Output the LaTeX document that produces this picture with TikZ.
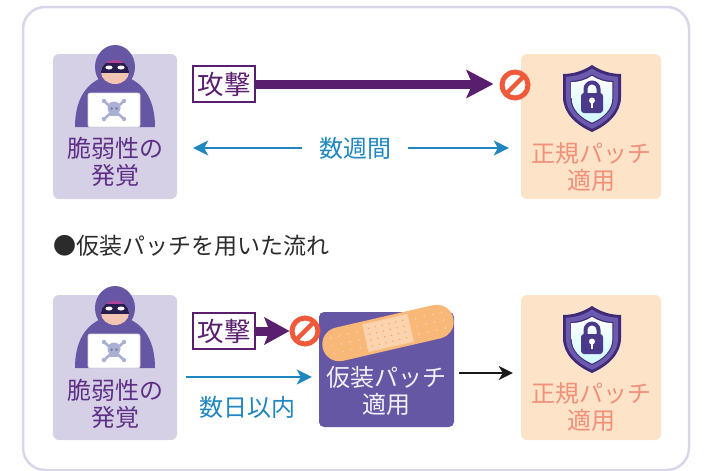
\documentclass[tikz,border=0pt]{standalone}
\usepackage{fontspec}
\setmainfont{Noto Sans CJK JP}
\usetikzlibrary{arrows.meta,calc}

\definecolor{frame}{HTML}{D9D5EA}
\definecolor{lav}{HTML}{D6D0E7}
\definecolor{lavtext}{HTML}{5E2F85}
\definecolor{peach}{HTML}{FDE3C7}
\definecolor{salmon}{HTML}{F2907A}
\definecolor{atk}{HTML}{5A1E6E}
\definecolor{blue}{HTML}{1F86C0}
\definecolor{stopred}{HTML}{EF5B3A}
\definecolor{tempbox}{HTML}{6657A4}
\definecolor{headc}{HTML}{2B2B2B}
\definecolor{hood}{HTML}{6656A3}
\definecolor{maskc}{HTML}{2A1C4E}
\definecolor{hair}{HTML}{B0449A}
\definecolor{skin}{HTML}{F2C4B2}
\definecolor{skull}{HTML}{AAB0D4}
\definecolor{skulleye}{HTML}{7A80A8}
\definecolor{shieldD}{HTML}{3F2A78}
\definecolor{shieldM}{HTML}{6B5AAE}
\definecolor{lock}{HTML}{4B3A8C}
\definecolor{band}{HTML}{F8B877}
\definecolor{bandpad}{HTML}{FBD3AE}
\definecolor{banddot}{HTML}{F2A567}

\tikzset{
  panel/.style={rectangle, rounded corners=6pt, minimum width=124pt, minimum height=145pt, inner sep=0pt},
  lbl/.style={align=center, inner sep=0pt, font=\fontsize{24pt}{27pt}\selectfont},
  atkbox/.style={draw=atk, line width=2pt, fill=white, text=atk, inner sep=0pt,
    minimum width=62pt, minimum height=36pt, font=\fontsize{26.5pt}{28pt}\selectfont},
  stopsign/.style={circle, draw=stopred, line width=5pt, fill=white, minimum size=26pt, inner sep=0pt},
  bigarrow/.style={draw=atk, line width=9pt, -{Stealth[length=27pt,width=28pt,inset=6pt]}},
  bluearrow/.style={draw=blue, line width=2pt, -{Stealth[length=15pt,width=15pt,inset=4pt]}},
  blackarrow/.style={draw=black!90, line width=2pt, -{Stealth[length=14pt,width=14pt,inset=4pt]}},
  hacker/.pic={
    % hooded body
    \fill[hood] (-40,82) .. controls (-40,56) and (-30,40) .. (-14,33) -- (14,33)
       .. controls (30,40) and (40,56) .. (40,82) -- cycle;
    % hood
    \fill[hood] (0,22) ellipse [x radius=20pt, y radius=22pt];
    % face opening with mask
    \begin{scope}
      \clip (0,27) ellipse [x radius=14pt, y radius=12pt];
      \fill[skin] (-15,14) rectangle (15,40);
      \fill[maskc] (-15,14) rectangle (15,28);
      \fill[hair] (-15,14) rectangle (15,17.5);
    \end{scope}
    \fill[white] (-6,22.5) ellipse [x radius=3.6pt, y radius=2pt];
    \fill[white] (6,22.5) ellipse [x radius=3.6pt, y radius=2pt];
    % laptop
    \fill[white, draw=black!15, line width=0.6pt, rounded corners=2pt] (-27,48) rectangle (25,82);
    % skull and crossbones
    \draw[skull, line width=2.6pt, line cap=round] (-11,56) -- (9,74) (9,56) -- (-11,74);
    \foreach \bx/\by in {-11/56, 9/56, -11/74, 9/74}
      \fill[skull] (\bx,\by) circle [radius=2.2pt];
    \fill[skull] (-1,63) circle [radius=6.5pt];
    \fill[skull] (-5,66) rectangle (3,71);
    \fill[skulleye] (-3.5,63.5) circle [radius=1.5pt] (1.5,63.5) circle [radius=1.5pt];
  },
  shield/.pic={
    \def\shp{(0,0) .. controls (-9,6) and (-19,9) .. (-29,9) -- (-29,32)
       .. controls (-29,48) and (-16,60) .. (0,67) .. controls (16,60) and (29,48) .. (29,32)
       -- (29,9) .. controls (19,9) and (9,6) .. (0,0) -- cycle}
    \fill[shieldD] \shp;
    \fill[shieldM, scale around={0.9:(0,35)}] \shp;
    \fill[shieldD, scale around={0.74:(0,36)}] \shp;
    \shade[top color=white, bottom color=blue!25!cyan!20, scale around={0.7:(0,36)}] \shp;
    % padlock
    \draw[lock, line width=4pt] (-6.5,30) -- (-6.5,24) arc [start angle=180, end angle=0, radius=6.5pt] -- (6.5,30);
    \fill[lock, rounded corners=3pt] (-11,28) rectangle (11,48);
    \fill[white] (0,35.5) circle [radius=3pt];
    \fill[white] (-1.4,36) rectangle (1.4,42.5);
  }
}

\begin{document}
\begin{tikzpicture}[x=1pt, y=-1pt]
  \useasboundingbox (0,0) rectangle (710,471);

  % outer frame
  \draw[frame, line width=2.5pt, rounded corners=22pt] (23,7) rectangle (689,470);

  % ---------- regular flow ----------
  \node[panel, fill=lav] (hack1) at (115,126.5) {};
  \pic at (115,45) {hacker};
  \node[lbl, text=lavtext] (hack1t) at (115,162) {脆弱性の\\発覚};

  \node[panel, fill=peach, minimum width=140pt] (patch1) at (591,126.5) {};
  \pic at (592,65) {shield};
  \node[lbl, text=salmon] (patch1t) at (591,167.5) {正規パッチ\\適用};

  \node[atkbox] (atk1) at (224,84) {攻撃};
  \node[stopsign] (stop1) at (515,85) {};
  \draw[bigarrow, shorten >=6pt] (atk1.east) -- (atk1.east -| stop1.west);
  \draw[stopred, line width=4.5pt] ($(stop1)+(-9,9)$) -- ($(stop1)+(9,-9)$);

  \node[lbl, text=blue, inner xsep=17pt] (weeks) at (355,148) {数週間};
  \draw[bluearrow, shorten >=16pt] (weeks.west) -- (weeks.west -| hack1.east);
  \draw[bluearrow, shorten >=12pt] (weeks.east) -- (weeks.east -| patch1.west);

  % ---------- heading ----------
  \node[anchor=west, inner sep=0pt, text=headc, font=\fontsize{23pt}{27pt}\selectfont] (title) at (53,246) {●仮装パッチを用いた流れ};

  % ---------- temporary patch flow ----------
  \node[panel, fill=lav] (hack2) at (115,367.5) {};
  \pic at (115,286) {hacker};
  \node[lbl, text=lavtext] (hack2t) at (115,404) {脆弱性の\\発覚};

  \node[panel, fill=tempbox, rounded corners=5pt, minimum width=135pt, minimum height=115pt] (temp) at (386.5,369.5) {};
  \node[lbl, text=white!92!tempbox] (tempt) at (386.5,391) {仮装パッチ\\適用};

  % adhesive bandage across the box
  \begin{scope}[shift={(388,333)}, rotate=13]
    \fill[band, rounded corners=17pt] (-67,-17) rectangle (67,17);
    \fill[bandpad, draw=band!70!white, line width=0.8pt] (-23,-14) rectangle (23,14);
    \foreach \i in {-18,-11,...,17} \foreach \j in {-9,-3,3,9}
      \fill[banddot] (\i,\j) circle [radius=0.8pt];
    \foreach \i in {-57,-48,-39,-30,30,39,48,57} \foreach \j in {-8,0,8}
      \fill[bandpad] (\i,\j) circle [radius=0.9pt];
  \end{scope}

  \node[panel, fill=peach, minimum width=140pt] (patch2) at (591,367.5) {};
  \pic at (592,306) {shield};
  \node[lbl, text=salmon] (patch2t) at (591,407) {正規パッチ\\適用};

  \node[atkbox] (atk2) at (224,331) {攻撃};
  \node[stopsign] (stop2) at (305,331) {};
  \draw[bigarrow, -{Stealth[length=25pt,width=27pt,inset=5pt]}] (atk2.east) -- (stop2.west);
  \draw[stopred, line width=4.5pt] ($(stop2)+(-9,9)$) -- ($(stop2)+(9,-9)$);

  \draw[bluearrow] ($(hack2.east)+(9,9.5)$) -- ($(hack2.east -| temp.west)+(-7,9.5)$);
  \node[lbl, text=blue] (days) at (247,407) {数日以内};

  \draw[blackarrow] ($(temp.east)+(5,3.5)$) -- ($(temp.east -| patch2.west)+(-8,3.5)$);
\end{tikzpicture}
\end{document}
